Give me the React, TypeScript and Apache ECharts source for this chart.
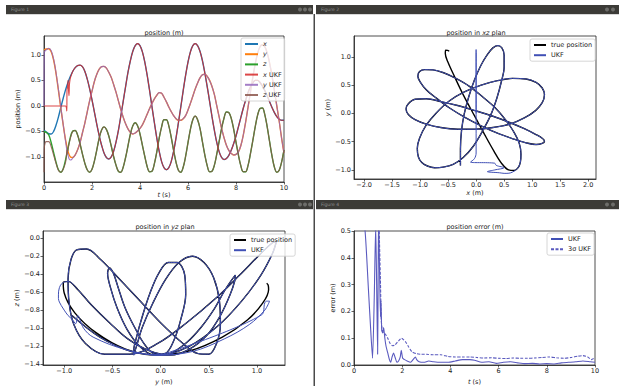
import React, { useEffect, useRef } from 'react';
import * as echarts from 'echarts';

// ---------- data ----------
const T_STEP = 0.1; // samples of the true trajectory every 0.1 s, t = 0 .. 10

const X_TRUE = [
  -0.48, -0.51, -0.545, -0.55, -0.5, -0.38, -0.22, -0.03, 0.15, 0.32,
  0.46, 0.58, 0.68, 0.75, 0.79, 0.8, 0.77, 0.68, 0.53, 0.34,
  0.12, -0.12, -0.36, -0.58, -0.77, -0.92, -1.01, -1.04, -1.0, -0.89,
  -0.71, -0.48, -0.2, 0.09, 0.38, 0.66, 0.89, 1.07, 1.18, 1.22,
  1.18, 1.06, 0.86, 0.6, 0.3, -0.02, -0.33, -0.63, -0.89, -1.09,
  -1.21, -1.25, -1.21, -1.09, -0.89, -0.63, -0.33, -0.02, 0.3, 0.6,
  0.86, 1.06, 1.18, 1.22, 1.18, 1.07, 0.89, 0.65, 0.38, 0.09,
  -0.21, -0.48, -0.72, -0.9, -1.01, -1.05, -1.03, -0.97, -0.87, -0.74,
  -0.59, -0.41, -0.23, -0.05, 0.11, 0.26, 0.37, 0.45, 0.5, 0.5,
  0.46, 0.39, 0.3, 0.2, 0.08, -0.03, -0.13, -0.21, -0.26, -0.28,
  -0.28,
];

const Y_TRUE = [
  1.1, 1.115, 1.12, 1.06, 0.9, 0.64, 0.31, -0.04, -0.37, -0.67,
  -0.89, -1.0, -1.01, -0.96, -0.86, -0.72, -0.53, -0.34, -0.12, 0.1,
  0.29, 0.48, 0.62, 0.72, 0.77, 0.775, 0.74, 0.66, 0.56, 0.42,
  0.27, 0.1, -0.07, -0.22, -0.35, -0.45, -0.52, -0.55, -0.53, -0.49,
  -0.44, -0.37, -0.27, -0.16, -0.05, 0.05, 0.14, 0.21, 0.26, 0.25,
  0.17, 0.08, -0.02, -0.11, -0.19, -0.25, -0.28, -0.28, -0.25, -0.19,
  -0.08, 0.05, 0.19, 0.33, 0.45, 0.55, 0.61, 0.62, 0.58, 0.5,
  0.38, 0.22, 0.0, -0.22, -0.44, -0.62, -0.77, -0.87, -0.93, -0.96,
  -0.95, -0.9, -0.78, -0.58, -0.32, -0.03, 0.27, 0.56, 0.82, 1.03,
  1.16, 1.2, 1.16, 1.04, 0.84, 0.59, 0.3, 0.0, -0.3, -0.63,
  -0.92,
];

const Z_TRUE = [
  -0.5, -0.52, -0.57, -0.72, -0.91, -1.1, -1.25, -1.3, -1.23, -1.05,
  -0.83, -0.61, -0.49, -0.48, -0.57, -0.74, -0.94, -1.12, -1.25, -1.3,
  -1.24, -1.08, -0.86, -0.63, -0.47, -0.41, -0.46, -0.59, -0.78, -0.99,
  -1.16, -1.28, -1.3, -1.2, -1.01, -0.78, -0.55, -0.39, -0.33, -0.39,
  -0.55, -0.77, -0.99, -1.19, -1.29, -1.28, -1.13, -0.9, -0.63, -0.41,
  -0.27, -0.27, -0.39, -0.61, -0.87, -1.1, -1.26, -1.3, -1.2, -0.99,
  -0.72, -0.46, -0.27, -0.2, -0.27, -0.44, -0.7, -0.96, -1.17, -1.29,
  -1.28, -1.16, -0.94, -0.69, -0.44, -0.24, -0.12, -0.13, -0.24, -0.45,
  -0.71, -0.96, -1.17, -1.29, -1.29, -1.17, -0.94, -0.68, -0.41, -0.18,
  -0.05, -0.04, -0.17, -0.41, -0.7, -0.98, -1.2, -1.3, -1.26, -1.1,
  -0.86,
];

// UKF transient before it locks on the true trajectory (t < 1.3 s)
const UKF_EARLY_T = [0, 0.01, 0.05, 0.1, 0.2, 0.3, 0.4, 0.5, 0.6, 0.7, 0.8, 0.9, 0.93, 0.95, 0.96, 0.98, 1.0, 1.02, 1.04, 1.06, 1.08, 1.1, 1.15, 1.2];
const X_UKF_EARLY = [0, 0, 0, 0, 0, 0, 0, 0, 0, 0, 0, 0, -0.03, -0.1, 0.33, 0.36, 0.5, 0.33, 0.2, 0.42, 0.5, 0.55, 0.62, 0.68];
const Y_UKF_EARLY = [0, 1.05, 1.08, 1.1, 1.13, 1.08, 0.92, 0.66, 0.33, -0.02, -0.36, -0.7, -0.8, -0.86, -0.88, -0.92, -0.96, -1.0, -1.03, -1.05, -1.06, -1.06, -1.05, -1.02];
const Z_UKF_EARLY = [-1.3, -0.85, -0.72, -0.7, -0.7, -0.8, -0.96, -1.12, -1.26, -1.3, -1.24, -1.1, -1.0, -0.86, -0.95, -0.9, -0.86, -0.8, -0.75, -0.71, -0.67, -0.63, -0.55, -0.5];
const UKF_LOCK_INDEX = 13; // from t = 1.3 s the estimate follows the true samples

// position error panel
const ERR_UKF: [number, number][] = [
  [0, 0.9], [0.46, 0.5], [0.6, 0.28], [0.7, 0.12], [0.77, 0.025], [0.84, 0.25], [0.9, 0.52], [0.94, 0.3],
  [0.98, 0.04], [1.0, 0.3], [1.02, 0.55], [1.07, 0.3], [1.1, 0.18], [1.12, 0.24], [1.15, 0.13], [1.19, 0.12],
  [1.23, 0.14], [1.28, 0.1], [1.33, 0.07], [1.4, 0.045], [1.47, 0.02], [1.52, 0.01], [1.58, 0.03], [1.64, 0.045],
  [1.7, 0.03], [1.78, 0.01], [1.85, 0.015], [1.92, 0.03], [1.96, 0.055], [2.02, 0.025], [2.1, 0.02], [2.2, 0.015],
  [2.35, 0.01], [2.45, 0.02], [2.55, 0.03], [2.6, 0.02], [2.7, 0.012], [2.9, 0.01], [3.1, 0.015], [3.3, 0.012],
  [3.6, 0.01], [3.9, 0.01], [4.2, 0.015], [4.5, 0.02], [4.8, 0.02], [5.0, 0.018], [5.3, 0.01], [5.6, 0.012],
  [5.9, 0.006], [6.2, 0.01], [6.5, 0.012], [6.8, 0.008], [7.1, 0.005], [7.4, 0.006], [7.7, 0.004], [8.0, 0.005],
  [8.3, 0.004], [8.6, 0.008], [8.9, 0.01], [9.2, 0.012], [9.5, 0.015], [9.8, 0.012], [10, 0.01],
];
const ERR_3SIGMA: [number, number][] = [
  [1.03, 0.55], [1.06, 0.45], [1.1, 0.3], [1.13, 0.17], [1.17, 0.13], [1.22, 0.12], [1.3, 0.115], [1.4, 0.1],
  [1.5, 0.08], [1.6, 0.072], [1.7, 0.075], [1.8, 0.085], [1.9, 0.095], [1.97, 0.1], [2.05, 0.095], [2.15, 0.085],
  [2.25, 0.07], [2.4, 0.05], [2.6, 0.042], [2.8, 0.04], [3.0, 0.04], [3.3, 0.038], [3.6, 0.038], [3.9, 0.032],
  [4.2, 0.03], [4.5, 0.03], [4.8, 0.03], [5.1, 0.028], [5.4, 0.026], [5.7, 0.027], [6.0, 0.025], [6.3, 0.024],
  [6.6, 0.026], [6.9, 0.025], [7.2, 0.025], [7.5, 0.026], [7.8, 0.028], [8.1, 0.03], [8.4, 0.027], [8.7, 0.025],
  [9.0, 0.028], [9.3, 0.033], [9.5, 0.035], [9.7, 0.03], [9.85, 0.02], [10, 0.027],
];

// tick labels
const T_TICKS = [0, 2, 4, 6, 8, 10];
const POS_TICKS = [-1, -0.5, 0, 0.5, 1];
const XPLAN_TICKS = [-2, -1.5, -1, -0.5, 0, 0.5, 1, 1.5, 2];
const Z_TICKS = [0, -0.2, -0.4, -0.6, -0.8, -1.0, -1.2, -1.4];
const ERR_TICKS = [0, 0.1, 0.2, 0.3, 0.4, 0.5];

// ---------- styling ----------
const FONT = "'DejaVu Sans', sans-serif";
const FS = 6.5;
const INK = '#222';
const C_X = '#1f77b4', C_Y = '#ff7f0e', C_Z = '#2ca02c';
const C_XU = '#d62728', C_YU = '#9467bd', C_ZU = '#8c564b';
const C_BLUE = '#4050b5';
const C_ERR = '#5a5abf';

const fmt1 = (v: number) => (Math.abs(v) < 1e-9 ? '0.0' : v.toFixed(1)).replace('-', '\u2212');
const fmt0 = (v: number) => String(Math.round(v));

const richItalic = { i: { fontStyle: 'italic', fontSize: FS, fontFamily: FONT, color: INK } };

function axis(gridIndex: number, min: number, max: number, ticks: number[], fmt: (v: number) => string,
  name: string, nameGap: number, isX: boolean) {
  return {
    type: 'value', gridIndex, min, max,
    name, nameLocation: 'middle', nameGap,
    nameTextStyle: { fontSize: FS, fontFamily: FONT, color: INK, rich: richItalic },
    axisLine: { show: true, onZero: false, lineStyle: { color: INK, width: 0.8 } },
    axisTick: { show: true, length: 2.5, customValues: ticks, lineStyle: { color: INK, width: 0.7 } },
    axisLabel: { customValues: ticks, formatter: fmt, fontSize: FS, fontFamily: FONT, color: INK, margin: isX ? 2 : 3 },
    splitLine: { show: false },
  };
}

function legend(names: string[], left: number, top: number, itemWidth: number, fmt?: (n: string) => string) {
  return {
    data: names, left, top, orient: 'vertical', itemWidth, itemHeight: 6, itemGap: 3.2,
    padding: [2.5, 3, 2.5, 3], backgroundColor: 'rgba(255,255,255,0.8)', borderColor: '#cccccc',
    borderWidth: 0.8, borderRadius: 2, selectedMode: false,
    itemStyle: { opacity: 0, borderWidth: 0 },
    textStyle: { fontSize: FS, fontFamily: FONT, color: INK, lineHeight: 6, rich: { i: { ...richItalic.i, lineHeight: 6 } } },
    formatter: fmt,
  };
}

function titleAt(text: string, cx: number, top: number) {
  return {
    text, left: cx, top, textAlign: 'center', padding: 0,
    textStyle: { fontSize: FS, fontWeight: 'normal', fontFamily: FONT, color: INK, rich: richItalic },
  };
}

function chrome() {
  const bar = '#3c3b37';
  const els: any[] = [];
  const bars = [
    { x: 6, y: 5, w: 307, label: 'Figure 1', dots: [300, 305, 310] },
    { x: 316, y: 5, w: 303, label: 'Figure 2', dots: [607, 613] },
    { x: 6, y: 200, w: 307, label: 'Figure 3', dots: [300, 305, 310] },
    { x: 316, y: 200, w: 303, label: 'Figure 4', dots: [607, 613] },
  ];
  bars.forEach((b) => {
    els.push({ type: 'rect', shape: { x: b.x, y: b.y, width: b.w, height: 9 }, style: { fill: bar }, silent: true });
    els.push({ type: 'rect', shape: { x: b.x, y: b.y + 9, width: b.w, height: 1 }, style: { fill: '#d8d8d8' }, silent: true });
    els.push({ type: 'text', x: b.x + 5, y: b.y + 4.5, silent: true,
      style: { text: b.label, fontSize: 4.5, fontFamily: FONT, fill: '#8f8f8f', textVerticalAlign: 'middle' } });
    b.dots.forEach((d) => els.push({ type: 'circle', shape: { cx: d, cy: b.y + 4.5, r: 2 }, style: { fill: '#6d6d6a' }, silent: true }));
  });
  els.push({ type: 'rect', shape: { x: 313.5, y: 14, width: 1.5, height: 372 }, style: { fill: '#4a4a4a' }, silent: true });
  return els;
}

export default function App() {
  const ref = useRef<HTMLDivElement>(null);

  useEffect(() => {
    if (!ref.current) return;
    const chart = echarts.init(ref.current, undefined, { renderer: 'svg', width: 619, height: 386 });

    const times = X_TRUE.map((_, i) => +(i * T_STEP).toFixed(2));
    const ukfT = [...UKF_EARLY_T, ...times.slice(UKF_LOCK_INDEX)];
    const xU = [...X_UKF_EARLY, ...X_TRUE.slice(UKF_LOCK_INDEX)];
    const yU = [...Y_UKF_EARLY, ...Y_TRUE.slice(UKF_LOCK_INDEX)];
    const zU = [...Z_UKF_EARLY, ...Z_TRUE.slice(UKF_LOCK_INDEX)];

    const line = (name: string, g: number, data: number[][], color: string, width: number, opacity = 1, extra: any = {}) => ({
      name, type: 'line', xAxisIndex: g, yAxisIndex: g, data, symbol: 'none', smooth: 0.35,
      lineStyle: { color, width, opacity, ...(extra.lineStyle || {}) }, itemStyle: { color, opacity: 0 }, silent: true,
      ...(extra.rest || {}),
    });

    const option: any = {
      animation: false,
      backgroundColor: '#ffffff',
      textStyle: { fontFamily: FONT },
      title: [
        titleAt('position (m)', 164, 29),
        titleAt('position in {i|xz} plan', 476, 29),
        titleAt('position in {i|yz} plan', 165, 223.5),
        titleAt('position error (m)', 475, 223.5),
      ],
      grid: [
        { left: 44, top: 36, width: 240, height: 146, show: true, borderColor: INK, borderWidth: 0.8, backgroundColor: 'transparent' },
        { left: 354, top: 36, width: 242, height: 143, show: true, borderColor: INK, borderWidth: 0.8, backgroundColor: 'transparent' },
        { left: 43, top: 231, width: 242, height: 143, show: true, borderColor: INK, borderWidth: 0.8, backgroundColor: 'transparent' },
        { left: 354, top: 231, width: 241, height: 143, show: true, borderColor: INK, borderWidth: 0.8, backgroundColor: 'transparent' },
      ],
      xAxis: [
        axis(0, 0, 10, T_TICKS, fmt0, '{i|t} (s)', 7.5, true),
        axis(1, -2.18, 2.14, XPLAN_TICKS, fmt1, '{i|x} (m)', 10, true),
        axis(2, -1.22, 1.29, POS_TICKS, fmt1, '{i|y} (m)', 13, true),
        axis(3, 0, 10, T_TICKS, fmt0, '{i|t} (s)', 13, true),
      ],
      yAxis: [
        axis(0, -1.49, 1.37, POS_TICKS, fmt1, 'position (m)', 19, false),
        axis(1, -1.16, 1.37, POS_TICKS, fmt1, '{i|y} (m)', 18.5, false),
        axis(2, -1.41, 0.08, Z_TICKS, fmt1, '{i|z} (m)', 17.5, false),
        axis(3, 0, 0.5, ERR_TICKS, fmt1, 'error (m)', 14, false),
      ],
      legend: [
        legend(['x', 'y', 'z', 'x UKF', 'y UKF', 'z UKF'], 241, 38, 13,
          (n: string) => n.replace(/^([xyz])/, '{i|$1}')),
        legend(['true position', 'UKF'], 530, 39, 12),
        legend(['true position', 'UKF'], 230, 234, 12),
        legend(['UKF', '3\u03c3 UKF'], 547, 233, 12),
      ],
      series: [
        line('x', 0, times.map((t, i) => [t, X_TRUE[i]]), C_X, 1.4),
        line('y', 0, times.map((t, i) => [t, Y_TRUE[i]]), C_Y, 1.4),
        line('z', 0, times.map((t, i) => [t, Z_TRUE[i]]), C_Z, 1.4),
        line('x UKF', 0, ukfT.map((t, i) => [t, xU[i]]), C_XU, 1.1, 0.85),
        line('y UKF', 0, ukfT.map((t, i) => [t, yU[i]]), C_YU, 1.1, 0.85),
        line('z UKF', 0, ukfT.map((t, i) => [t, zU[i]]), C_ZU, 1.1, 0.85),

        line('true position', 1, times.map((_, i) => [X_TRUE[i], Y_TRUE[i]]), '#000000', 1.4),
        line('UKF', 1, ukfT.map((_, i) => [xU[i], yU[i]]), C_BLUE, 1.0),

        line('true position', 2, times.map((_, i) => [Y_TRUE[i], Z_TRUE[i]]), '#000000', 1.4),
        line('UKF', 2, ukfT.map((_, i) => [yU[i], zU[i]]), C_BLUE, 1.0),

        line('UKF', 3, ERR_UKF, C_ERR, 1.1, 1, { rest: { smooth: 0.2 } }),
        line('3\u03c3 UKF', 3, ERR_3SIGMA, C_ERR, 1.1, 1, { lineStyle: { type: [3, 1.5] }, rest: { smooth: 0.2 } }),
      ],
      graphic: { elements: chrome() },
    };

    chart.setOption(option);
    return () => chart.dispose();
  }, []);

  return (
    <div
      ref={ref}
      style={{ position: 'absolute', left: 0, top: 0, width: 619, height: 386, background: '#ffffff' }}
    />
  );
}
